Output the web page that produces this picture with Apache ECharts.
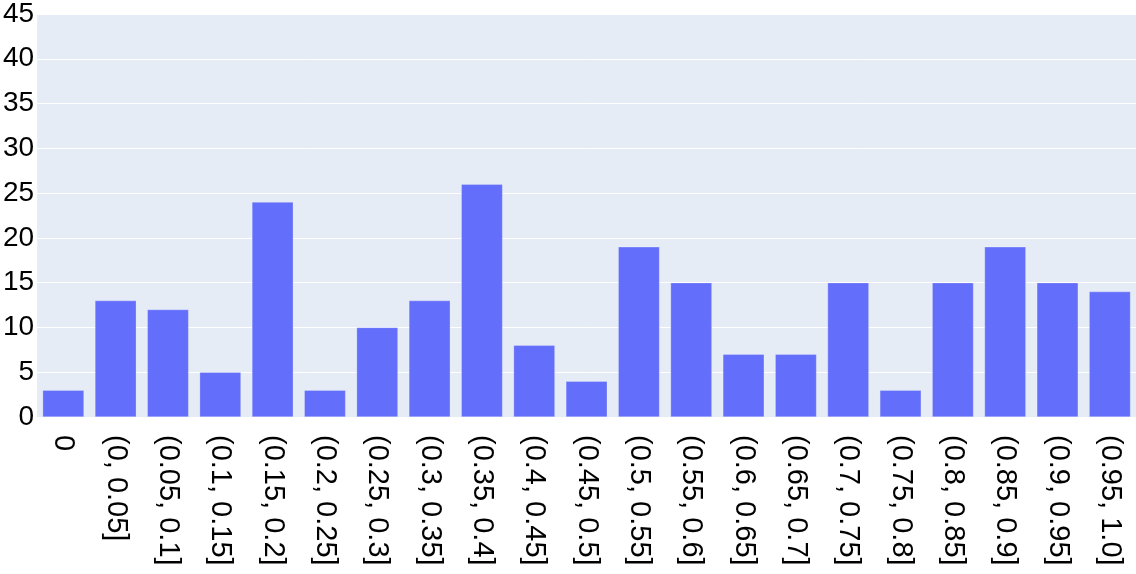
<!DOCTYPE html>
<html><head><meta charset="utf-8">
<script src="https://cdn.jsdelivr.net/npm/echarts@6/dist/echarts.min.js"></script>
<style>html,body{margin:0;padding:0;background:#fff}#c{width:1136px;height:574px}</style>
</head><body><div id="c"></div>
<script>
const categories = ["0","(0, 0.05]","(0.05, 0.1]","(0.1, 0.15]","(0.15, 0.2]","(0.2, 0.25]","(0.25, 0.3]","(0.3, 0.35]","(0.35, 0.4]","(0.4, 0.45]","(0.45, 0.5]","(0.5, 0.55]","(0.55, 0.6]","(0.6, 0.65]","(0.65, 0.7]","(0.7, 0.75]","(0.75, 0.8]","(0.8, 0.85]","(0.85, 0.9]","(0.9, 0.95]","(0.95, 1.0]"];
const counts = [3,13,12,5,24,3,10,13,26,8,4,19,15,7,7,15,3,15,19,15,14];
const yMin = 0, yMax = 45, yStep = 5;
const chart = echarts.init(document.getElementById('c'), null, {renderer:'canvas'});
chart.setOption({
  animation:false,
  backgroundColor:'#fff',
  grid:{left:36,right:0,top:12,bottom:157,show:true,backgroundColor:'#E5ECF6',borderWidth:0},
  xAxis:{type:'category',data:categories,
    axisLine:{show:false},axisTick:{show:false},
    axisLabel:{rotate:-90,interval:0,margin:18,color:'#000',fontSize:29,fontFamily:'Liberation Sans, Arial, sans-serif'}},
  yAxis:{type:'value',min:yMin,max:yMax,interval:yStep,
    axisLine:{show:false},axisTick:{show:false},
    splitLine:{lineStyle:{color:'#ffffff',width:1}},
    axisLabel:{margin:3,color:'#000',fontSize:28,fontFamily:'Liberation Sans, Arial, sans-serif'}},
  series:[{type:'bar',data:counts,barCategoryGap:'21%',
    itemStyle:{color:'#636EFA',borderColor:'rgba(255,255,255,0.5)',borderWidth:0.5}}]
});
</script></body></html>
